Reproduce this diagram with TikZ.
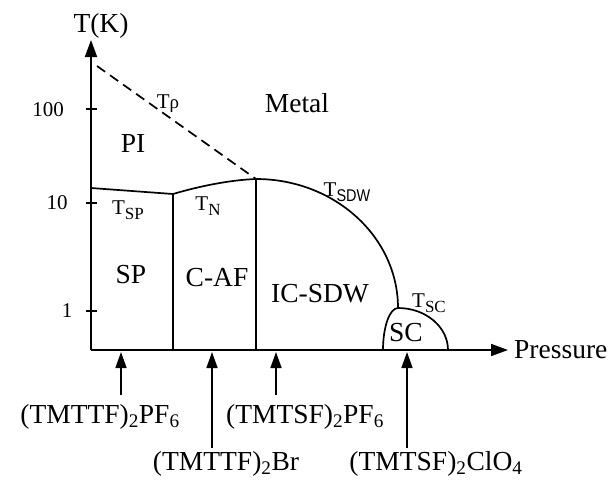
\documentclass[tikz,border=0pt]{standalone}
\usepackage{fontspec}
\setmainfont{Liberation Serif}
\setsansfont{Liberation Sans}
\usetikzlibrary{arrows.meta}
\newcommand\lowsub[1]{\raisebox{-5pt}{\fontsize{17}{17}\selectfont #1}}
\begin{document}
\begin{tikzpicture}[x=1pt,y=-1pt,
  lbl/.style={font=\fontsize{27.5}{30}\selectfont, inner sep=0pt},
  tlbl/.style={font=\fontsize{21}{22}\selectfont, inner sep=0pt},
  ticklbl/.style={font=\fontsize{21}{22}\selectfont, inner sep=0pt},
  phase/.style={line width=1.7pt},
  ax/.style={line width=1.8pt, -{Triangle[length=17pt,width=12pt]}},
  pointer/.style={line width=1.6pt, -{Triangle[length=16pt,width=11pt]}},
]
\useasboundingbox (0,0) rectangle (615,480);
% axes
\coordinate (O) at (91,350);
\coordinate (ytop) at (91,40);
\coordinate (xend) at (508,350);
\draw[ax] (O) -- (ytop);
\draw[ax] (O) -- (xend);
\node[lbl] (tk) at (101,26) {T(K)};
\node[lbl,anchor=west] (press) at (514,350) {Pressure};
% ticks
\foreach \yy/\nm in {109/a,203/b,311/c}{
  \coordinate (tl\nm) at (86,\yy);
  \coordinate (tr\nm) at (97,\yy);
  \draw[line width=1.5pt] (tl\nm) -- (tr\nm);
}
\node[ticklbl] (t100) at (48,110) {100};
\node[ticklbl] (t10) at (57,203) {10};
\node[ticklbl] (t1) at (67,311) {1};
% phase lines
\coordinate (rhoS) at (97,66);
\coordinate (P0) at (91,188);
\coordinate (P1) at (173,194);
\coordinate (P2) at (256,179);
\coordinate (P3) at (398,308);
\coordinate (B1) at (173,350);
\coordinate (B2) at (256,350);
\coordinate (S0) at (383,350);
\coordinate (S1) at (448,350);
\draw[phase, dash pattern=on 10pt off 6pt] (rhoS) -- (P2);
\draw[phase] (P0) -- (P1) .. controls (200,186) and (230,180) .. (P2);
\draw[phase] (P1) -- (B1);
\draw[phase] (P2) -- (B2);
\draw[phase] (P2) .. controls (334.4,179) and (398,236.8) .. (P3);
\draw[phase] (S0) .. controls (383,326.8) and (389.7,308) .. (P3)
  .. controls (425.6,308) and (448,326.8) .. (S1);
% phase labels
\node[tlbl] (trho) at (168,104) {T{\fontsize{19}{19}\selectfont ρ}};
\node[lbl] (metal) at (297,103) {Metal};
\node[lbl] (pi) at (133,143) {PI};
\node[tlbl] (tsp) at (128,210) {T\lowsub{SP}};
\node[tlbl] (tn) at (208,206) {T\lowsub{N}};
\node[tlbl] (tsdw) at (347,192) {T\lowsub{\sffamily\scalebox{0.85}[1]{SDW}}};
\node[tlbl] (tsc) at (429,303) {T\lowsub{SC}};
\node[lbl] (sp) at (131,275) {SP};
\node[lbl] (caf) at (217,278) {C-AF};
\node[lbl] (icsdw) at (320,294) {IC-SDW};
\node[lbl] (sc) at (406,333) {SC};
% compounds
\node[lbl] (c1) at (100,417) {(TMTTF)\textsubscript{2}PF\textsubscript{6}};
\node[lbl] (c2) at (226,464) {(TMTTF)\textsubscript{2}Br};
\node[lbl] (c3) at (305,417) {(TMTSF)\textsubscript{2}PF\textsubscript{6}};
\node[lbl] (c4) at (436,464) {(TMTSF)\textsubscript{2}ClO\textsubscript{4}};
\coordinate (a1s) at (121,395); \coordinate (a1e) at (121,352);
\coordinate (a2s) at (212,448); \coordinate (a2e) at (212,352);
\coordinate (a3s) at (276,395); \coordinate (a3e) at (276,352);
\coordinate (a4s) at (407,448); \coordinate (a4e) at (407,352);
\draw[pointer] (a1s) -- (a1e);
\draw[pointer] (a2s) -- (a2e);
\draw[pointer] (a3s) -- (a3e);
\draw[pointer] (a4s) -- (a4e);
\end{tikzpicture}
\end{document}
